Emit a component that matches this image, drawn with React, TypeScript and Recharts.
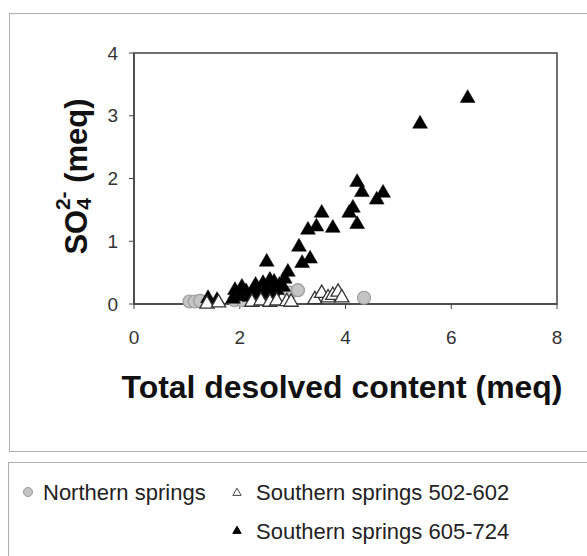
import React from "react";
import {
  ScatterChart,
  Scatter,
  XAxis,
  YAxis,
  ReferenceArea,
  Label,
  Symbols,
} from "recharts";

const xTicks = [0, 2, 4, 6, 8];
const yTicks = [0, 1, 2, 3, 4];

const seriesNames = ["Northern springs", "Southern springs 502-602", "Southern springs 605-724"];

const northernX = [1.05, 1.15, 1.25, 1.9, 2.05, 2.95, 3.1, 4.35];
const northernY = [0.04, 0.04, 0.05, 0.06, 0.06, 0.18, 0.22, 0.1];

const south502X = [1.38, 1.6, 2.23, 2.4, 2.57, 2.7, 2.89, 2.97, 3.42, 3.55, 3.67, 3.76, 3.86, 3.93];
const south502Y = [0.0, 0.02, 0.03, 0.05, 0.03, 0.05, 0.04, 0.03, 0.07, 0.17, 0.1, 0.14, 0.19, 0.1];

const south605X = [
  1.4, 1.57, 1.87, 1.91, 2.0, 2.04, 2.12, 2.19, 2.25, 2.3, 2.3, 2.38, 2.44, 2.45, 2.5, 2.51,
  2.57, 2.6, 2.62, 2.65, 2.7, 2.75, 2.82, 2.85, 2.91, 3.12, 3.18, 3.33, 3.29, 3.45, 3.55, 3.76,
  4.07, 4.14, 4.22, 4.22, 4.31, 4.59, 4.71, 5.41, 6.31,
];
const south605Y = [
  0.09, 0.06, 0.08, 0.22, 0.12, 0.27, 0.2, 0.11, 0.22, 0.15, 0.3, 0.18, 0.33, 0.15, 0.25, 0.67,
  0.38, 0.1, 0.2, 0.35, 0.22, 0.3, 0.27, 0.4, 0.51, 0.91, 0.65, 0.72, 1.18, 1.23, 1.45, 1.21,
  1.45, 1.53, 1.27, 1.94, 1.78, 1.66, 1.77, 2.87, 3.28,
];

const toPoints = (xs: number[], ys: number[]) => xs.map((x, i) => ({ x, y: ys[i] }));

const northern = toPoints(northernX, northernY);
const south502 = toPoints(south502X, south502Y);
const south605 = toPoints(south605X, south605Y);

const FONT = '"Liberation Sans", Arial, sans-serif';

const CircleShape = (p: any) => (
  <circle cx={p.cx} cy={p.cy} r={6.5} fill="#c4c4c4" stroke="#9a9a9a" strokeWidth={1.2} />
);
const OpenTri = (p: any) => (
  <Symbols cx={p.cx} cy={p.cy} type="triangle" size={88} fill="#ffffff" stroke="#333" strokeWidth={1.3} />
);
const BlackTri = (p: any) => (
  <Symbols cx={p.cx} cy={p.cy} type="triangle" size={95} fill="#000" stroke="#000" strokeWidth={0.5} />
);

const YTitle = (props: any) => {
  const vb = props.viewBox || { x: 0, y: 53, width: 134, height: 251 };
  const cx = 76;
  const cy = vb.y + vb.height / 2 - 2;
  return (
    <text
      x={cx}
      y={cy}
      transform={`rotate(-90, ${cx}, ${cy})`}
      textAnchor="middle"
      dominantBaseline="central"
      fontFamily={FONT}
      fontWeight="bold"
      fontSize={31}
      fill="#111"
    >
      SO
      <tspan fontSize={21} dy={7}>4</tspan>
      <tspan fontSize={21} dx={-12} dy={-21}>2-</tspan>
      <tspan dy={14}> (meq)</tspan>
    </text>
  );
};

const XTitle = () => (
  <text
    x={342}
    y={398}
    textAnchor="middle"
    fontFamily={FONT}
    fontWeight="bold"
    fontSize={31}
    fill="#111"
    textLength={441}
    lengthAdjust="spacingAndGlyphs"
  >
    Total desolved content (meq)
  </text>
);

export default function App() {
  return (
    <div
      style={{
        position: "absolute",
        left: 0,
        top: 0,
        width: 587,
        height: 556,
        overflow: "hidden",
        background: "#fff",
      }}
    >
      <div
        style={{
          position: "absolute",
          left: 9,
          top: 13,
          width: 600,
          height: 439,
          border: "1.5px solid #b0b0b0",
          boxSizing: "border-box",
        }}
      />
      <div
        style={{
          position: "absolute",
          left: 8,
          top: 462,
          width: 600,
          height: 200,
          border: "1.5px solid #b0b0b0",
          boxSizing: "border-box",
        }}
      />
      <div style={{ position: "absolute", left: 0, top: 0 }}>
        <ScatterChart width={587} height={460} margin={{ top: 53, right: 30, bottom: 0, left: 0 }}>
          <ReferenceArea x1={0} x2={8} y1={0} y2={4} fill="none" stroke="#444" strokeWidth={1.5} ifOverflow="visible" />
          <XAxis
            type="number"
            dataKey="x"
            domain={[0, 8]}
            ticks={xTicks}
            height={156}
            axisLine={{ stroke: "#444", strokeWidth: 1.5 }}
            tickLine={{ stroke: "#444" }}
            tickSize={5}
            tickMargin={22}
            tick={{ fill: "#333", fontSize: 19, fontFamily: FONT }}
          >
            <Label content={<XTitle />} />
          </XAxis>
          <YAxis
            type="number"
            dataKey="y"
            domain={[0, 4]}
            ticks={yTicks}
            width={134}
            axisLine={{ stroke: "#444", strokeWidth: 1.5 }}
            tickLine={{ stroke: "#444" }}
            tickSize={5}
            tickMargin={11}
            tick={{ fill: "#333", fontSize: 19, fontFamily: FONT }}
          >
            <Label content={<YTitle />} />
          </YAxis>
          <Scatter name={seriesNames[0]} data={northern} shape={CircleShape} isAnimationActive={false} />
          <Scatter name={seriesNames[2]} data={south605} shape={BlackTri} isAnimationActive={false} />
          <Scatter name={seriesNames[1]} data={south502} shape={OpenTri} isAnimationActive={false} />
        </ScatterChart>
      </div>
      <svg
        width={587}
        height={94}
        style={{ position: "absolute", left: 0, top: 462 }}
      >
        <circle cx={28} cy={30} r={4.5} fill="#c4c4c4" stroke="#999" strokeWidth={1} />
        <text x={43} y={38} fontFamily={FONT} fontSize={22} fill="#222">
          {seriesNames[0]}
        </text>
        <Symbols cx={237} cy={31} type="triangle" size={30} fill="#fff" stroke="#444" strokeWidth={1} />
        <text x={256} y={38} fontFamily={FONT} fontSize={22} fill="#222">
          {seriesNames[1]}
        </text>
        <Symbols cx={237} cy={69} type="triangle" size={30} fill="#000" stroke="#000" />
        <text x={256} y={77} fontFamily={FONT} fontSize={22} fill="#222">
          {seriesNames[2]}
        </text>
      </svg>
    </div>
  );
}
